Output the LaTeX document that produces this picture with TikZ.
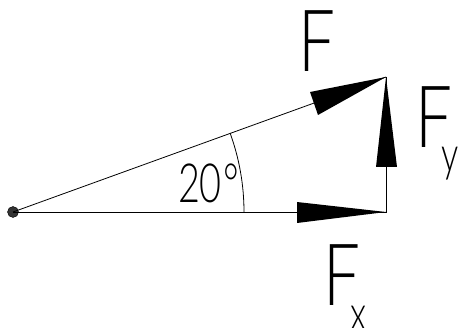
\documentclass[tikz,border=0pt]{standalone}
\usepackage{fontspec}
\newfontfamily\thinfont{Lato Light}
\newcommand{\bigF}{\scalebox{0.76}[1]{\fontsize{86}{86}\selectfont F}}
\newcommand{\subtxt}[1]{\scalebox{0.7}[1]{\fontsize{49}{49}\selectfont #1}}
\begin{document}
\begin{tikzpicture}[x=1pt,y=1pt,
  thin line/.style={line width=0.8pt,black},
  head/.style={fill=black,draw=none},
  lbl/.style={anchor=base west,inner sep=0pt,outer sep=0pt,font=\thinfont}]
\useasboundingbox (0,0) rectangle (461,327);
\node[circle,fill=black!80,draw=black,inner sep=0pt,minimum size=11pt] (O) at (13,115) {};
\coordinate (T) at (386,250);
\coordinate (X) at (386,115);
\draw[thin line] (O.center) -- (T);
\draw[thin line] (O.center) -- (X) -- (T);
\draw[thin line] (244,115) arc[start angle=0,end angle=20,radius=231];
\fill[head] (T) -- (310,235) -- (318,212) -- cycle;
\fill[head] (X) -- (297,125) -- (297,104) -- cycle;
\fill[head] (T) -- (376,160) -- (397,160) -- cycle;
\node[lbl] (lF) at (298,255) {\bigF};
\node[lbl] (lFy) at (415,179) {\bigF\kern-10pt\raisebox{-24pt}{\subtxt{y}}};
\node[lbl] (lFx) at (323,21) {\bigF\kern-9pt\raisebox{-25pt}{\subtxt{x}}};
\node[lbl] (lang) at (178,124) {\scalebox{0.7}[1]{\fontsize{54}{54}\selectfont 20\kern2pt°}};
\end{tikzpicture}
\end{document}
